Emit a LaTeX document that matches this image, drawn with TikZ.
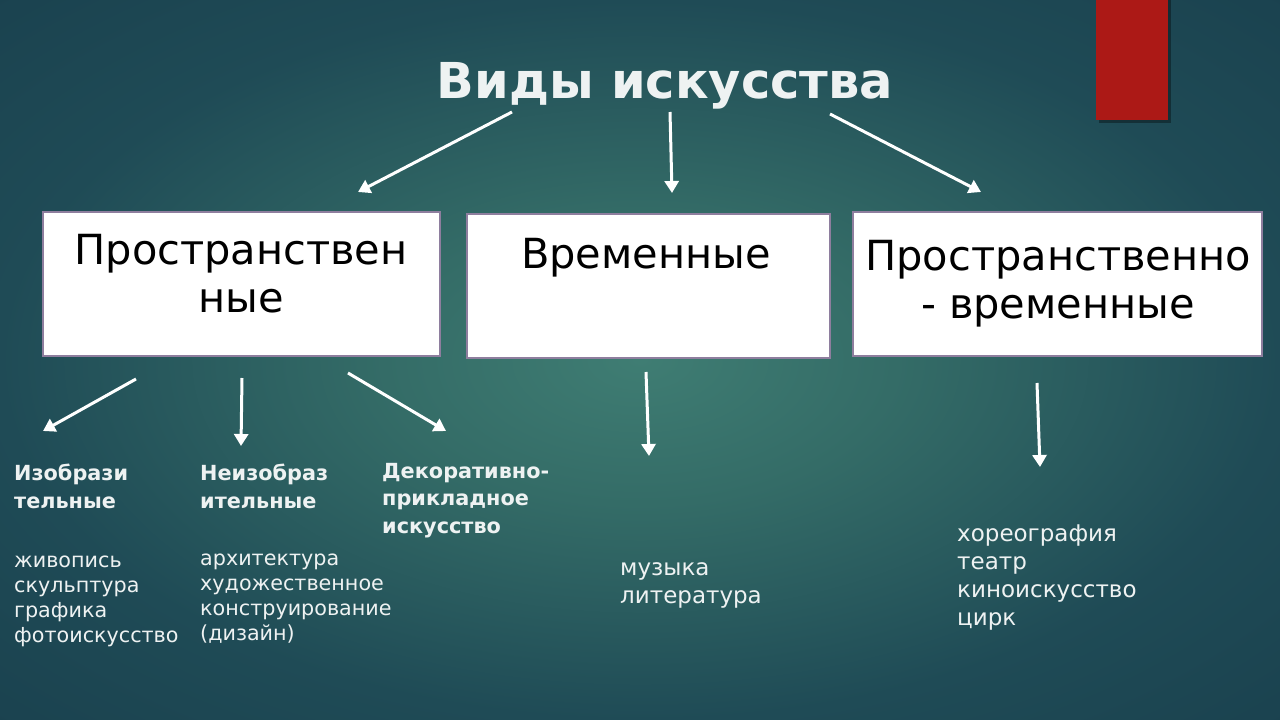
\documentclass[tikz,border=0pt]{standalone}
\usepackage{fontspec}
\setmainfont{DejaVu Sans}
\usetikzlibrary{arrows.meta}
\definecolor{bgA}{HTML}{3F7D73}
\definecolor{bgB}{HTML}{346C67}
\definecolor{bgC}{HTML}{1F4B56}
\definecolor{bgD}{HTML}{143646}
\definecolor{redbar}{HTML}{AC1916}
\definecolor{boxline}{HTML}{8E7E9E}
\definecolor{txt}{HTML}{EEF2F2}
\pgfdeclareradialshading{bgshade}{\pgfpoint{0bp}{0bp}}{color(0bp)=(bgA); color(10bp)=(bgB); color(25bp)=(bgC); color(50bp)=(bgD)}
\tikzset{
  boxst/.style={draw=boxline, line width=2pt, fill=white, inner sep=0pt},
  boxtext/.style={text=black, align=center, anchor=base, inner sep=0pt, font=\fontsize{41.5}{48}\selectfont},
  headtext/.style={text=txt, align=left, anchor=base west, inner sep=0pt, font=\bfseries\fontsize{20.8}{27.5}\selectfont},
  listtext/.style={text=txt, align=left, anchor=base west, inner sep=0pt, font=\fontsize{20.7}{25}\selectfont},
  listbig/.style={text=txt, align=left, anchor=base west, inner sep=0pt, font=\fontsize{23}{28}\selectfont},
  arr/.style={draw=white, line width=3pt, -{Triangle[width=14pt,length=12pt]}}
}
\begin{document}
\begin{tikzpicture}[x=1pt,y=-1pt]
\useasboundingbox (0,0) rectangle (1280,720);
\shade[shading=bgshade] (0,0) rectangle (1280,720);
% red bar
\fill[black,opacity=0.35] (1099,0) rectangle (1171,123);
\fill[redbar] (1096,0) rectangle (1168,120);
% title
\node[text=txt, anchor=base, inner sep=0pt, font=\bfseries\fontsize{49.5}{56}\selectfont] (title) at (665,98) {Виды искусства};
% boxes
\node[boxst, minimum width=397pt, minimum height=144pt] (b1) at (241.5,284) {};
\node[boxst, minimum width=363pt, minimum height=144pt] (b2) at (648.5,286) {};
\node[boxst, minimum width=409pt, minimum height=144pt] (b3) at (1057.5,284) {};
% (base anchor = baseline of the last line)
\node[boxtext] (t1) at (241,312) {Пространствен\\ные};
\node[boxtext] (t2) at (646,268) {Временные};
\node[boxtext] (t3) at (1058,318) {Пространственно\\- временные};
% arrow coordinates
\coordinate (s1) at (512,112); \coordinate (e1) at (358,192);
\coordinate (s2) at (670,112); \coordinate (e2) at (672,193);
\coordinate (s3) at (830,114); \coordinate (e3) at (981,192);
\coordinate (s4) at (136,379); \coordinate (e4) at (43,431);
\coordinate (s5) at (242,378); \coordinate (e5) at (241,446);
\coordinate (s6) at (348,373); \coordinate (e6) at (446,431);
\coordinate (s7) at (646,372); \coordinate (e7) at (649,456);
\coordinate (s8) at (1037,383); \coordinate (e8) at (1040,467);
\foreach \i in {1,...,8} {\draw[arr] (s\i) -- (e\i);}
% headings
\node[headtext] (h1) at (14,508) {Изобрази\\тельные};
\node[headtext] (h2) at (200,508) {Неизобраз\\ительные};
\node[headtext] (h3) at (382,533) {Декоративно-\\прикладное\\искусство};
% lists
\node[listtext] (l1) at (14,642) {живопись\\скульптура\\графика\\фотоискусство};
\node[listtext] (l2) at (200,640) {архитектура\\художественное\\конструирование\\(дизайн)};
\node[listbig] (l3) at (620,603) {музыка\\литература};
\node[listbig] (l4) at (957,625) {хореография\\театр\\киноискусство\\цирк};
\end{tikzpicture}
\end{document}
